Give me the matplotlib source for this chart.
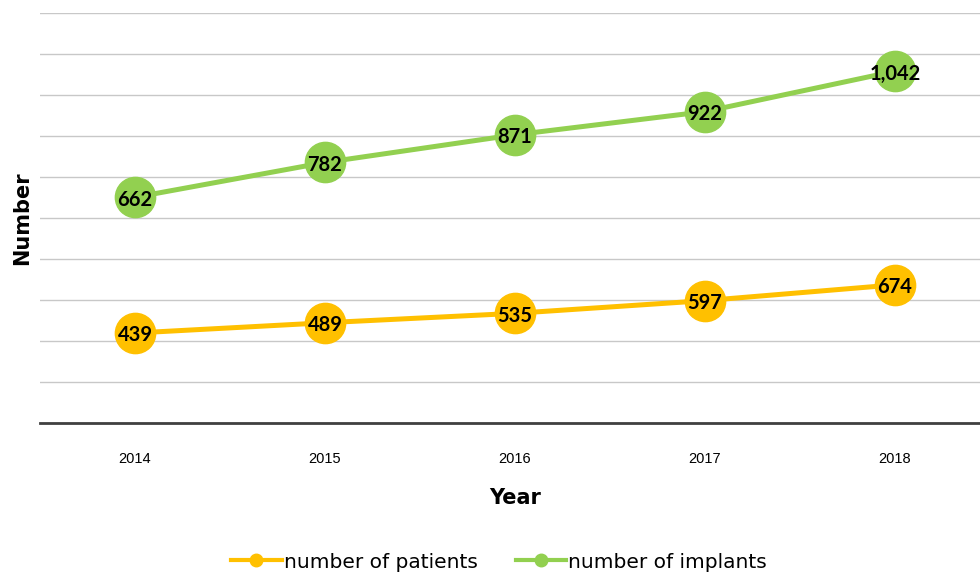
import numpy as np
import matplotlib.pyplot as plt

years = ['2014', '2015', '2016', '2017', '2018']
patients = [439, 489, 535, 597, 674]
implants = [662, 782, 871, 922, 1042]

# stacked line chart: implants line sits on top of patients
stacked = np.add(patients, implants)

yellow = '#FFC000'
green = '#92D050'

fig = plt.figure(figsize=(9.8, 5.77), dpi=100)
ax = fig.add_axes([40/980, 154/577, 950/980, 410/577])

x = np.arange(len(years))
ax.plot(x, patients, color=yellow, lw=3.6, marker='o', ms=29,
        label='number of patients', zorder=3)
ax.plot(x, stacked, color=green, lw=3.6, marker='o', ms=29,
        label='number of implants', zorder=3)

for i in range(len(years)):
  ax.text(x[i], patients[i] - 12, f'{patients[i]:,}', ha='center', va='center',
          fontsize=14.5, fontweight='bold', family='Lato', zorder=4)
  ax.text(x[i], stacked[i] - 12, f'{implants[i]:,}', ha='center', va='center',
          fontsize=14.5, fontweight='bold', family='Lato', zorder=4)

ax.set_xlim(-0.5, 4.5)
ax.set_ylim(0, 2000)
ax.set_yticks(np.arange(0, 2001, 200))
ax.set_yticklabels([])
ax.tick_params(axis='y', length=0)
ax.grid(axis='y', color='#c8c8c8', lw=1)
ax.set_axisbelow(True)
ax.set_xticks(x)
ax.set_xticklabels(years, fontsize=10.5, family='Liberation Sans')
ax.tick_params(axis='x', length=0, pad=21)
for s in ['top', 'right', 'left']:
  ax.spines[s].set_visible(False)
ax.spines['bottom'].set_color('#404040')
ax.spines['bottom'].set_linewidth(2)

ax.set_xlabel('Year', fontsize=15, fontweight='bold', family='DejaVu Sans', labelpad=16)
fig.text(22/980, 1 - 218/577, 'Number', rotation=90, ha='center', va='center',
         fontsize=15, fontweight='bold', family='DejaVu Sans')

h1 = plt.Line2D([], [], color=yellow, lw=3, marker='o', ms=9)
h2 = plt.Line2D([], [], color=green, lw=3, marker='o', ms=9)
fig.legend([h1, h2], ['number of patients', 'number of implants'],
           loc='center', bbox_to_anchor=(499/980, 1 - 562/577), ncol=2,
           frameon=False, prop={'family': 'DejaVu Sans', 'size': 14.5},
           handlelength=2.5, handletextpad=0.1, columnspacing=1.9)

plt.savefig('out.png', dpi=100)
